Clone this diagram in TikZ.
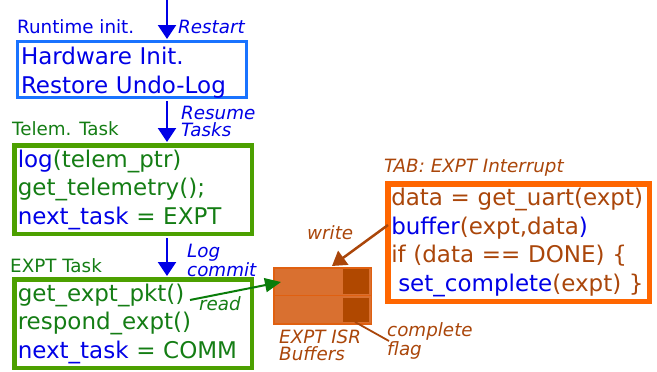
\documentclass[tikz,border=0pt]{standalone}
\usepackage{fontspec}
\setmainfont{DejaVu Sans}
\usetikzlibrary{arrows.meta}
\definecolor{tblue}{RGB}{0,0,230}
\definecolor{bblue}{RGB}{25,115,255}
\definecolor{tgreen}{RGB}{20,125,20}
\definecolor{bgreen}{RGB}{76,160,0}
\definecolor{borange}{RGB}{255,102,0}
\definecolor{tbrown}{RGB}{170,70,10}
\definecolor{buffill}{RGB}{217,112,48}
\definecolor{bufdark}{RGB}{176,72,0}
\definecolor{bufedge}{RGB}{224,96,16}
\definecolor{agreen}{RGB}{10,125,10}
\newcommand{\codefont}{\fontsize{23}{28.5}\selectfont}
\newcommand{\lblfont}{\fontsize{18.3}{16.5}\selectfont}
\begin{document}
\begin{tikzpicture}[x=1pt,y=-1pt,
  codebox/.style={draw, align=left, anchor=north west, inner xsep=3.5pt, inner ysep=0pt, font=\codefont},
  lbl/.style={anchor=base west, inner sep=0pt, font=\lblfont},
  lbl2/.style={anchor=north west, inner sep=0pt, align=left, font=\lblfont},
  barrow/.style={draw=tblue, line width=2.5pt, -{Triangle[length=14pt,width=18pt]}},
  garrow/.style={draw=agreen, line width=2pt, -{Triangle[length=16pt,width=14pt]}},
  warrow/.style={draw=tbrown, line width=2.5pt, -{Triangle[length=14pt,width=17pt]}},
  bufrow/.style={draw=bufedge, fill=buffill, line width=1.5pt, outer sep=0pt, anchor=north west, minimum width=97.5pt, minimum height=28.5pt, inner sep=0pt},
  bufflag/.style={fill=bufdark, outer sep=0pt, anchor=north west, minimum width=26pt, minimum height=24.5pt, inner sep=0pt}
]
\useasboundingbox (0,0) rectangle (657,372);

% boxes
\node[codebox, draw=bblue, line width=3pt, text=tblue, text width=222pt, minimum height=52pt] (init) at (16,40)
  {\rule{0pt}{23pt}Hardware Init.\\Restore Undo-Log};
\node[codebox, draw=bgreen, line width=4.5pt, text=tgreen, text width=230.5pt, minimum height=88.5pt] (telem) at (12,143)
  {\textcolor{tblue}{log}(telem\_ptr)\\get\_telemetry();\\\textcolor{tblue}{next\_task} = EXPT};
\node[codebox, draw=bgreen, line width=4.5pt, text=tgreen, text width=230.5pt, minimum height=88.5pt] (expt) at (12,277)
  {get\_expt\_pkt()\\respond\_expt()\\\textcolor{tblue}{next\_task} = COMM};
\node[codebox, draw=borange, line width=5.5pt, text=tbrown, text width=254.5pt, minimum height=117.5pt] (isr) at (385,181)
  {data = get\_uart(expt)\\\textcolor{tblue}{buffer}(expt,data\textcolor{tblue}{)}\\if (data == DONE) \{\\\hspace*{7pt}\textcolor{tblue}{set\_complete}(expt) \}};

% box titles
\node[lbl, text=tblue] (tinit) at (17,34) {Runtime init.};
\node[lbl, text=tgreen] (ttelem) at (12,135) {Telem. Task};
\node[lbl, text=tgreen] (texpt) at (10,272) {EXPT Task};
\node[lbl, text=tbrown, font=\lblfont\itshape] (tisr) at (384,172) {TAB: EXPT Interrupt};

% buffers
\node[bufrow] (bufA) at (273.75,267.75) {};
\node[bufrow] (bufB) at (273.75,295.5) {};
\node[bufflag] (bufAf) at (343,269) {};
\node[bufflag] (bufBf) at (343,297.5) {};
\node[lbl2, text=tbrown, font=\lblfont\itshape] (tbuf) at (279,330) {EXPT ISR\\Buffers};
\node[lbl2, text=tbrown, font=\lblfont\itshape] (tflag) at (387,322.5) {complete\\flag};

% control-flow arrows
\coordinate (top) at (167,0);
\draw[barrow] (top) -- ([yshift=1pt]top |- init.north);
\draw[barrow, shorten <=2pt] (init.south -| top) -- ([yshift=1pt]telem.north -| top);
\draw[barrow, shorten <=2pt] (telem.south -| top) -- ([yshift=1pt]expt.north -| top);
\node[lbl, text=tblue, font=\lblfont\itshape] (lrestart) at (178,33) {Restart};
\node[lbl2, text=tblue, font=\lblfont\itshape] (lresume) at (181,106) {Resume\\Tasks};
\node[lbl2, text=tblue, font=\lblfont\itshape] (llog) at (187,244) {Log\\commit};

% read arrow
\coordinate (rd) at (190,300);
\coordinate (rdend) at (281,282);
\draw[garrow] (rd) -- (rdend);
\node[lbl, text=tgreen, font=\lblfont\itshape] (lread) at (199,310) {read};

% write arrow
\coordinate (wr) at (388,225);
\coordinate (wrend) at (332,266);
\draw[warrow] (wr) -- (wrend);
\node[lbl, text=tbrown, font=\lblfont\itshape] (lwrite) at (307,239) {write};

% complete flag pointer
\coordinate (fl) at (389,341);
\draw[draw=tbrown, line width=1.8pt] ([xshift=-1pt]bufBf.south) -- (fl);
\end{tikzpicture}
\end{document}
